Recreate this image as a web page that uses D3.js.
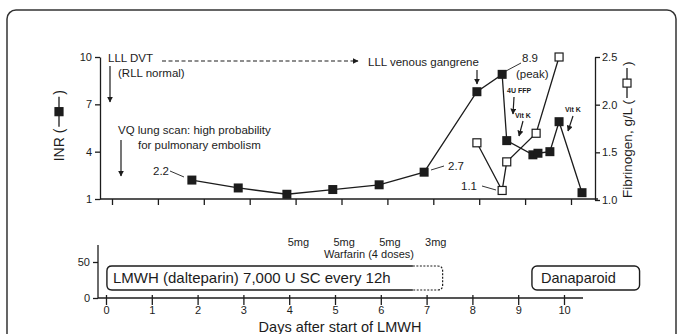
<!DOCTYPE html>
<html>
<head>
<meta charset="utf-8">
<script src="https://cdn.jsdelivr.net/npm/d3@7"></script>
<style>
  body { margin: 0; background: #fff; }
  svg { display: block; font-family: "Liberation Sans", Arial, sans-serif; }
  text { fill: #1c1c1c; }
</style>
</head>
<body>
<svg id="chart" width="678" height="334"></svg>
<script>
// INR (filled squares) and fibrinogen (open squares) over days
const inrDays = [1.74, 2.75, 3.81, 4.81, 5.82, 6.8, 7.95, 8.5, 8.6, 9.17, 9.28, 9.54, 9.74, 10.24]
const inrValues = [2.2, 1.7, 1.3, 1.6, 1.9, 2.7, 7.8, 8.9, 4.7, 3.8, 3.9, 4.0, 5.9, 1.4]
const fibDays = [7.95, 8.5, 8.6, 9.24, 9.74]
const fibValues = [1.6, 1.1, 1.4, 1.7, 2.5]
const inrTicks = [1, 4, 7, 10]
const fibTicks = [1.0, 1.5, 2.0, 2.5]
const dayTicks = [0, 1, 2, 3, 4, 5, 6, 7, 8, 9, 10]
const doseDays = [4.2, 5.2, 6.2, 7.2]
const doseLabels = ['5mg', '5mg', '5mg', '3mg']
const lowerTicks = [0, 50]

const ink = '#1c1c1c'
const svg = d3.select('#chart')

// frame
svg.append('rect')
  .attr('x', 7).attr('y', 10).attr('width', 669).attr('height', 420)
  .attr('rx', 9)
  .style('fill', 'none').style('stroke', '#333').style('stroke-width', 1.5)

const defs = svg.append('defs')
defs.append('marker')
  .attr('id', 'arr').attr('viewBox', '0 0 10 10')
  .attr('refX', 9).attr('refY', 5)
  .attr('markerWidth', 5).attr('markerHeight', 5)
  .attr('orient', 'auto')
  .append('path').attr('d', 'M0,0 L10,5 L0,10 z').style('fill', ink)

// ---------- upper panel ----------
let xTop = d3.scaleLinear().domain([0, 10]).range([112, 571])
let yInr = d3.scaleLinear().domain([1, 10]).range([199, 57])
let yFib = d3.scaleLinear().domain([1.0, 2.5]).range([200, 57])

let styleAxis = function (g, size) {
  g.selectAll('line, path').style('stroke', ink).style('stroke-width', 1.3)
  g.selectAll('text').style('font-size', size + 'px').style('fill', ink)
    .style('font-family', '"Liberation Sans", Arial, sans-serif')
}

let xTopAxis = svg.append('g')
  .attr('transform', 'translate(0,199)')
  .call(d3.axisBottom(xTop).tickValues(dayTicks).tickFormat('').tickSize(6).tickSizeOuter(0))
xTopAxis.select('.domain').remove()
xTopAxis.append('line').attr('x1', 100).attr('x2', 598).attr('y1', 0).attr('y2', 0)
styleAxis(xTopAxis, 11)

let yInrAxis = svg.append('g')
  .attr('transform', 'translate(100,0)')
  .call(d3.axisLeft(yInr).tickValues(inrTicks).tickSize(5).tickSizeOuter(0).tickPadding(3))
styleAxis(yInrAxis, 11)

let yFibAxis = svg.append('g')
  .attr('transform', 'translate(595,0)')
  .call(d3.axisRight(yFib).tickValues(fibTicks).tickFormat(d3.format('.1f')).tickSize(5).tickSizeOuter(0).tickPadding(2))
styleAxis(yFibAxis, 11)

// series lines
let inrPts = inrDays.map((d, i) => [d, inrValues[i]])
let fibPts = fibDays.map((d, i) => [d, fibValues[i]])
svg.append('path')
  .attr('d', d3.line().x(d => xTop(d[0])).y(d => yInr(d[1]))(inrPts))
  .style('fill', 'none').style('stroke', ink).style('stroke-width', 1.3)
svg.append('path')
  .attr('d', d3.line().x(d => xTop(d[0])).y(d => yFib(d[1]))(fibPts))
  .style('fill', 'none').style('stroke', ink).style('stroke-width', 1.3)

svg.append('g').selectAll('rect').data(fibPts).enter().append('rect')
  .attr('x', d => xTop(d[0]) - 4).attr('y', d => yFib(d[1]) - 4)
  .attr('width', 8).attr('height', 8)
  .style('fill', '#fff').style('stroke', ink).style('stroke-width', 1.2)
svg.append('g').selectAll('rect').data(inrPts).enter().append('rect')
  .attr('x', d => xTop(d[0]) - 4.5).attr('y', d => yInr(d[1]) - 4.5)
  .attr('width', 9).attr('height', 9)
  .style('fill', ink)

// axis titles with legend symbols
let sideLabel = function (cx, cy, label, size, filled) {
  let g = svg.append('g').attr('transform', `translate(${cx},${cy}) rotate(-90)`)
  let t = g.append('text').attr('y', size * 0.36).style('font-size', size + 'px').text(label + ' (')
  let w = t.node().getComputedTextLength()
  let symW = 30
  let total = w + symW + 8
  let x0 = -total / 2
  t.attr('x', x0)
  let sx = x0 + w + 2
  g.append('line').attr('x1', sx).attr('x2', sx + symW).attr('y1', 0).attr('y2', 0)
    .style('stroke', ink).style('stroke-width', 1.3)
  g.append('rect').attr('x', sx + symW / 2 - 4).attr('y', -4).attr('width', 8).attr('height', 8)
    .style('fill', filled ? ink : '#fff').style('stroke', ink).style('stroke-width', 1.2)
  g.append('text').attr('x', sx + symW + 2).attr('y', size * 0.36).style('font-size', size + 'px').text(')')
}
sideLabel(59, 126, 'INR', 14, true)
sideLabel(627, 130, 'Fibrinogen, g/L', 13.5, false)

// annotations
let note = function (x, y, txt, size, anchor, bold) {
  svg.append('text').attr('x', x).attr('y', y).style('font-size', size + 'px')
    .style('text-anchor', anchor || 'start')
    .style('font-weight', bold ? 'bold' : 'normal')
    .text(txt)
}
let arrow = function (x1, y1, x2, y2, dash) {
  let l = svg.append('line').attr('x1', x1).attr('y1', y1).attr('x2', x2).attr('y2', y2)
    .style('stroke', ink).style('stroke-width', 1.2).attr('marker-end', 'url(#arr)')
  if (dash) l.style('stroke-dasharray', dash)
}
let leader = function (x1, y1, x2, y2) {
  svg.append('line').attr('x1', x1).attr('y1', y1).attr('x2', x2).attr('y2', y2)
    .style('stroke', ink).style('stroke-width', 0.9)
}

note(108, 62, 'LLL DVT', 11.5)
note(118, 77, '(RLL normal)', 11.5)
arrow(110, 66, 110, 102)
arrow(162, 61, 358, 61, '4,2.5')
note(368, 66, 'LLL venous gangrene', 11.5)
arrow(477, 70, 477, 84)
note(118, 134, 'VQ lung scan: high probability', 11.5)
note(138, 149, 'for pulmonary embolism', 11.5)
arrow(121, 140, 121, 176)
note(153, 175, '2.2', 11.5)
leader(170, 171, 184, 177)
note(448, 170, '2.7', 11.5)
leader(431, 170, 444, 166)
note(461, 190, '1.1', 11.5)
leader(482, 186, 496, 190)
note(522, 62, '8.9', 11.5)
note(516, 78, '(peak)', 11.5)
leader(506, 71, 521, 63)
note(507, 93, '4U FFP', 7, 'start', true)
arrow(514, 97, 513, 114)
note(515, 118, 'Vit K', 7, 'start', true)
arrow(523, 121, 519, 136)
note(565, 112, 'Vit K', 7, 'start', true)
arrow(573, 116, 568, 131)

// ---------- lower panel ----------
let xBot = d3.scaleLinear().domain([0, 10]).range([106, 564])
let yBot = d3.scaleLinear().domain([0, 50]).range([298, 262])

let xBotAxis = svg.append('g')
  .attr('transform', 'translate(0,298)')
  .call(d3.axisBottom(xBot).tickValues(dayTicks).tickSize(7).tickSizeOuter(0).tickPadding(1))
xBotAxis.select('.domain').remove()
xBotAxis.selectAll('.tick line').attr('y1', -3)
xBotAxis.append('line').attr('x1', 98).attr('x2', 583).attr('y1', 0).attr('y2', 0)
styleAxis(xBotAxis, 11)

let yBotAxis = svg.append('g')
  .attr('transform', 'translate(98,0)')
  .call(d3.axisLeft(yBot).tickValues(lowerTicks).tickSize(5).tickSizeOuter(0).tickPadding(3))
yBotAxis.select('.domain').remove()
yBotAxis.append('line').attr('x1', 0).attr('x2', 0).attr('y1', 245).attr('y2', 298)
styleAxis(yBotAxis, 11)

note(340, 332, 'Days after start of LMWH', 14.5, 'middle')

// warfarin doses
svg.append('g').selectAll('text').data(doseDays).enter().append('text')
  .attr('x', d => xBot(d)).attr('y', 246)
  .style('font-size', '11px').style('text-anchor', 'middle')
  .text((d, i) => doseLabels[i])
note(369, 258, 'Warfarin (4 doses)', 11, 'middle')

// LMWH box: solid then dashed tail
let bx0 = xBot(0.02), bxs = xBot(6.7), bx1 = xBot(7.35), by0 = 266, by1 = 290, r = 5
svg.append('path')
  .attr('d', `M${bxs},${by0} L${bx0 + r},${by0} Q${bx0},${by0} ${bx0},${by0 + r} L${bx0},${by1 - r} Q${bx0},${by1} ${bx0 + r},${by1} L${bxs},${by1}`)
  .style('fill', 'none').style('stroke', ink).style('stroke-width', 1.4)
svg.append('path')
  .attr('d', `M${bxs},${by0} L${bx1 - r},${by0} Q${bx1},${by0} ${bx1},${by0 + r} L${bx1},${by1 - r} Q${bx1},${by1} ${bx1 - r},${by1} L${bxs},${by1}`)
  .style('fill', 'none').style('stroke', ink).style('stroke-width', 1.2).style('stroke-dasharray', '2,1.5')
note(113, 283, 'LMWH (dalteparin) 7,000 U SC every 12h', 15)

let dx0 = xBot(9.3), dx1 = xBot(11.65)
svg.append('rect').attr('x', dx0).attr('y', by0).attr('width', dx1 - dx0).attr('height', by1 - by0)
  .attr('rx', 5).style('fill', 'none').style('stroke', ink).style('stroke-width', 1.4)
note(dx0 + 9, 283, 'Danaparoid', 14.5)
</script>
</body>
</html>
